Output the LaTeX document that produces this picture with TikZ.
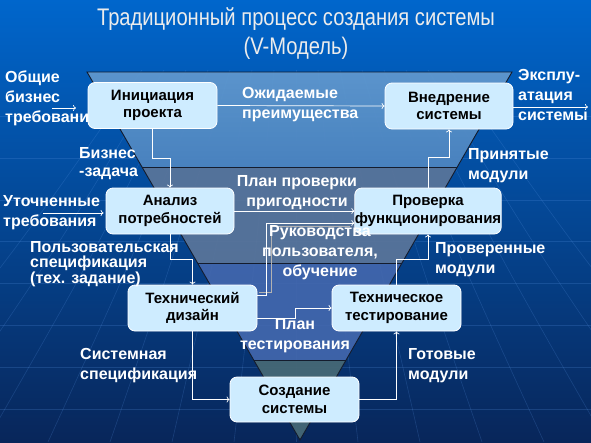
\documentclass[tikz,border=0pt]{standalone}
\usepackage{fontspec}
\setmainfont{Liberation Sans}
\usetikzlibrary{arrows.meta,calc}
\definecolor{bgtop}{RGB}{0,102,204}
\definecolor{bgmid}{RGB}{8,70,156}
\definecolor{bgbot}{RGB}{8,38,90}
\definecolor{bandA}{RGB}{96,152,206}
\definecolor{bandAb}{RGB}{76,132,192}
\definecolor{bandB}{RGB}{90,117,154}
\definecolor{bandC}{RGB}{68,104,174}
\definecolor{bandD}{RGB}{70,104,118}
\definecolor{bandline}{RGB}{20,28,45}
\definecolor{boxfill}{RGB}{206,236,255}
\definecolor{titlecol}{RGB}{236,236,236}
\definecolor{gridcol}{RGB}{90,150,230}
\tikzset{
  vbox/.style={draw=white, line width=0.8pt, fill=boxfill, rounded corners=7pt,
    minimum width=129pt, minimum height=46pt, align=center, inner sep=0pt,
    text=black, font=\bfseries\fontsize{15}{17.5}\selectfont},
  lbl/.style={text=white, inner sep=0pt, font=\bfseries\fontsize{16}{20}\selectfont},
  ttl/.style={text=titlecol, inner sep=0pt, font=\fontsize{24}{26}\selectfont},
  conn/.style={draw=white, line width=0.7pt, -{To[length=3pt,width=6pt]}},
  gridln/.style={draw=gridcol, line width=0.6pt, opacity=0.22}
}
\begin{document}
\begin{tikzpicture}[x=1pt,y=-1pt]
\useasboundingbox (0,0) rectangle (591,442);
% background
\shade[top color=bgtop, middle color=bgmid, bottom color=bgbot] (0,0) rectangle (591,442);
\foreach \yy in {116,158,200,241,283,325,367,409} {
  \draw[gridln] (0,\yy) -- (591,\yy);
}
\foreach \i in {-7,...,7} {
  \draw[gridln] (296+\i*22,70) .. controls (296+\i*40,250) .. (296+\i*62,442);
}
% V triangle bands
\begin{scope}
  \clip (87,72) -- (512,72) -- (300,440) -- cycle;
  \shade[top color=bandA, bottom color=bandAb, opacity=0.95] (80,72) rectangle (520,167);
  \fill[bandB, opacity=0.93] (80,167) rectangle (520,263);
  \fill[bandC, opacity=0.9] (80,263) rectangle (520,360);
  \fill[bandD, opacity=0.95] (80,360) rectangle (520,442);
\end{scope}
\draw[bandline, line width=1pt] (142,167) -- (457,167);
\draw[bandline, line width=1pt] (197.6,263) -- (402,263);
\draw[bandline, line width=1pt] (253.7,360) -- (346,360);
\draw[bandline, line width=0.9pt] (87,72) -- (512,72) -- (300,440) -- cycle;
% title
\node[ttl] (t1) at (296,19) {\scalebox{0.84}[1]{Традиционный процесс создания системы}};
\node[ttl] (t2) at (296,48) {\scalebox{0.84}[1]{(V-Модель)}};
% external labels (drawn before boxes)
\node[lbl, anchor=west, align=left] (lgen) at (5,98) {Общие\\бизнес\\требовани};
\node[lbl, anchor=west, align=left] (lexp) at (518,95) {Эксплу-\\атация\\системы};
\node[lbl, anchor=west, align=left] (lref) at (3,212.5) {Уточненные\\требования};
% boxes
\node[vbox] (init) at (152.5,105.5) {Инициация\\проекта};
\node[vbox, minimum width=128pt] (impl) at (449,106) {Внедрение\\системы};
\node[vbox, minimum width=128pt] (anal) at (170,211) {Анализ\\потребностей};
\node[vbox, minimum width=138pt] (check) at (428,211) {Проверка\\функционирования};
\node[vbox] (tdes) at (192.5,308) {Технический\\дизайн};
\node[vbox] (ttest) at (396.5,308) {Техническое\\тестирование};
\node[vbox, minimum height=45pt] (build) at (294.5,399.5) {Создание\\системы};
% inner labels
\node[lbl, anchor=west, align=left] (lben) at (242,105) {Ожидаемые\\преимущества};
\node[lbl, anchor=west, align=left, font=\bfseries\fontsize{16}{18}\selectfont] (lbiz) at (79,164) {Бизнес\\-задача};
\node[lbl, align=center] (lplan) at (297,193) {План проверки\\пригодности};
\node[lbl, anchor=west, align=left] (lacc) at (468,166) {Принятые\\модули};
\node[lbl, anchor=west, align=left, font=\bfseries\fontsize{16}{14.5}\selectfont] (luser) at (30,264) {Пользовательская\\спецификация\\(тех. задание)};
\node[lbl, anchor=west, align=left] (lver) at (435,259.5) {Проверенные\\модули};
\node[lbl, align=center] (lptest) at (295,335.5) {План\\тестирования};
\node[lbl, anchor=west, align=left] (lsys) at (80,366) {Системная\\спецификация};
\node[lbl, anchor=west, align=left] (lready) at (408,366) {Готовые\\модули};
% connectors
\coordinate (gen0) at (52,108);
\coordinate (gen1) at (76,108);
\coordinate (ref0) at (43,213);
\coordinate (exp1) at (588,107);
\draw[conn] (gen0) -- (gen1);
\draw[conn] (ref0) -- ([xshift=-2pt]anal.west |- ref0);
\draw[conn] (impl.east |- exp1) -- (exp1);
\draw[conn] (init.east) -- (impl.west);
\draw[conn] (init.south) -- ++(0,29) -| (anal.north);
\draw[conn] (anal.east) -- (check.west);
\draw[conn] (anal.south) -- ++(0,25) -| (tdes.north);
\draw[draw=gray!60, line width=0.9pt] ([xshift=2pt,yshift=16pt]tdes.east) -- ++(12,0) |- ([xshift=-4pt,yshift=-15pt]check.west);
\draw[conn] ([yshift=13pt]tdes.east) -- ++(9,0) |- ([yshift=-12pt]check.west);
\node[lbl, align=center] (lman) at (320,253) {Руководства\\пользователя,\\обучение};
\draw[conn] ([yshift=-10pt]tdes.east) -- ++(38,0) |- (ttest.west);
\draw[conn] (tdes.south) |- (build.west);
\draw[conn] (build.east) -| (ttest.south);
\draw[conn] (ttest.north) -- ++(0,-25) -| (check.south);
\draw[conn] (check.north) -- ++(0,-30) -| (impl.south);
\end{tikzpicture}
\end{document}
